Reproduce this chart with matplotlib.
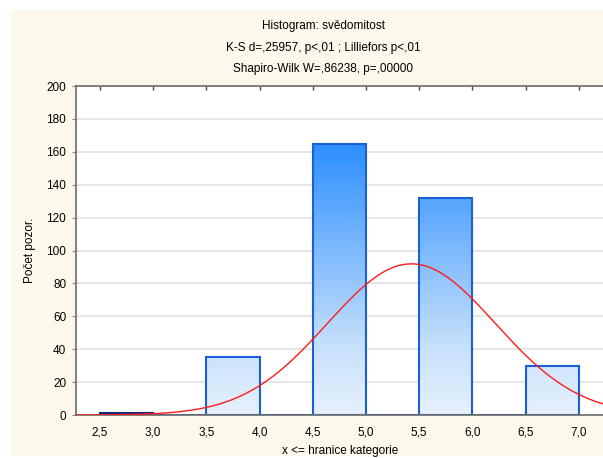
import numpy as np
import matplotlib.pyplot as plt
from matplotlib.colors import LinearSegmentedColormap
from matplotlib.patches import Rectangle

plt.rcParams['font.family'] = ['Liberation Sans', 'DejaVu Sans']

# histogram data (upper bin limits, counts)
bin_left = [2.5, 3.0, 3.5, 4.0, 4.5, 5.0, 5.5, 6.0, 6.5]
counts = [1, 0, 35, 0, 165, 0, 132, 0, 30]
bin_width = 0.5
xticks = [2.5, 3.0, 3.5, 4.0, 4.5, 5.0, 5.5, 6.0, 6.5, 7.0]
xtick_labels = ['2,5', '3,0', '3,5', '4,0', '4,5', '5,0', '5,5', '6,0', '6,5', '7,0']
yticks = [0, 20, 40, 60, 80, 100, 120, 140, 160, 180, 200]

# fitted normal curve parameters
n_obs = 363
mean = 5.427
sd = 0.788

W, H = 603, 458
fig = plt.figure(figsize=(W / 100, H / 100), dpi=100, facecolor='white')
fig.patches.append(Rectangle((11 / W, 2 / H), 1, 446 / H, transform=fig.transFigure,
                             facecolor='#fdf8ec', edgecolor='none', zorder=-10))

x0, x1 = 2.275, 7.6
ppu = 106.4  # pixels per unit
ax = fig.add_axes([76 / W, 43 / H, (x1 - x0) * ppu / W, 329 / H])
ax.set_facecolor('white')

for y in yticks[1:-1]:
    ax.axhline(y, color='#e2e2e2', lw=1.2, zorder=0)

cmap = LinearSegmentedColormap.from_list(
    'bl', [(0, '#e6f1fd'), (0.2, '#c8e1fb'), (0.82, '#2d8fff'), (1, '#1883ff')])
grad = np.linspace(0, 1, 256).reshape(-1, 1)
for left, c in zip(bin_left, counts):
    if c > 0:
        im = ax.imshow(grad, cmap=cmap, origin='lower', aspect='auto',
                       extent=[left, left + bin_width, 0, 200], zorder=1)
        r = Rectangle((left, 0), bin_width, c, transform=ax.transData)
        im.set_clip_path(r)
    ec = '#0a2a80' if c == 1 else '#1a5fd6'
    ax.add_patch(Rectangle((left, 0), bin_width, c, facecolor='none',
                           edgecolor=ec, lw=1.5, zorder=2))

xs = np.linspace(x0, x1, 400)
ys = n_obs * bin_width / (sd * np.sqrt(2 * np.pi)) * np.exp(-0.5 * ((xs - mean) / sd) ** 2)
ax.plot(xs, ys, color='#ff1a1a', lw=1, zorder=3)
ax.set_xlim(x0, x1)
ax.set_ylim(0, 200)

for s in ['left', 'bottom', 'top']:
    ax.spines[s].set_color('#6a6a6a')
    ax.spines[s].set_linewidth(1.2)
ax.spines['right'].set_visible(False)

ax.set_xticks(xticks)
ax.set_xticklabels(xtick_labels, fontsize=8.5)
ax.set_yticks(yticks)
ax.set_yticklabels([str(v) for v in yticks], fontsize=8.5)
ax.tick_params(axis='y', length=3, width=0.8, color='#888888', pad=4)
ax.tick_params(axis='x', which='major', length=0, pad=8)
ax.tick_params(axis='x', top=True, direction='in', length=3, width=1, color='#444444')
ax.tick_params(axis='x', bottom=False)

fig.text(323 / W, 1 - 26 / H, 'Histogram: svědomitost', ha='center', va='center', fontsize=8.5)
fig.text(323 / W, 1 - 48 / H, 'K-S d=,25957, p<,01 ; Lilliefors p<,01', ha='center', va='center', fontsize=8.5)
fig.text(323 / W, 1 - 69 / H, 'Shapiro-Wilk W=,86238, p=,00000', ha='center', va='center', fontsize=8.5)
fig.text(340 / W, 1 - 451 / H, 'x <= hranice kategorie', ha='center', va='center', fontsize=8.5)
fig.text(30 / W, 1 - 250 / H, 'Počet pozor.', ha='center', va='center', rotation=90, fontsize=8.5)

fig.savefig('out.png', dpi=100)
